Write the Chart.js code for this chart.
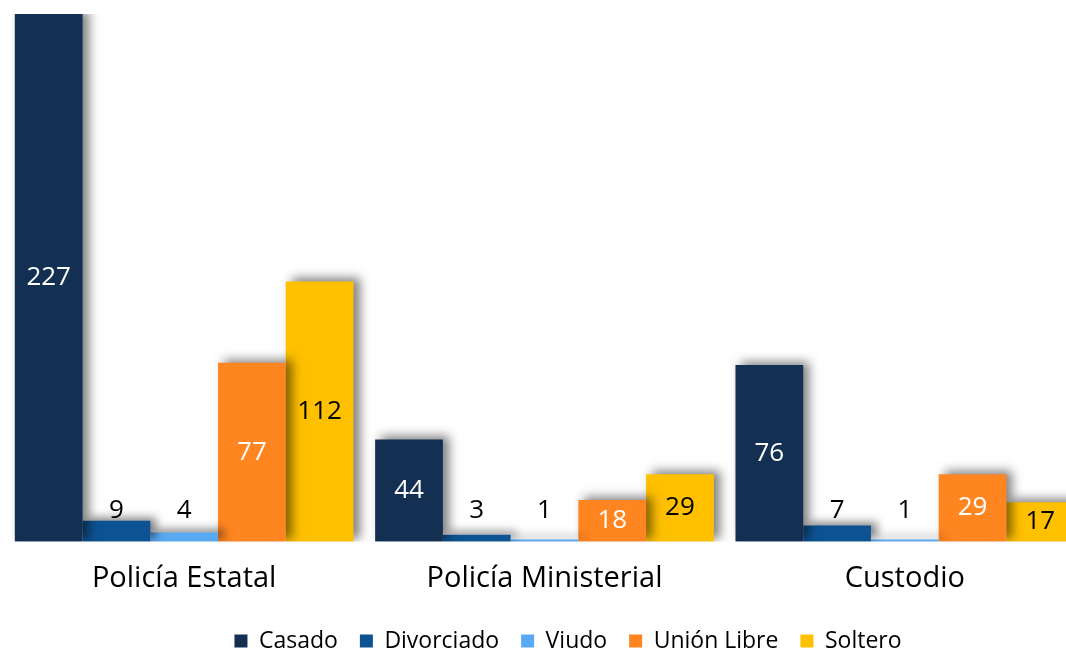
<!DOCTYPE html>
<html>
<head>
<meta charset="utf-8">
<script src="https://cdn.jsdelivr.net/npm/chart.js@4"></script>
<style>
  html, body { margin: 0; padding: 0; background: #fff; overflow: hidden; }
  #wrap { position: absolute; left: 0; top: 0; width: 1092px; height: 651px; }
</style>
</head>
<body>
<div id="wrap"><canvas id="myChart"></canvas></div>
<script>
var categories = ["Policía Estatal", "Policía Ministerial", "Custodio"];
var casado = [227, 44, 76];
var divorciado = [9, 3, 7];
var viudo = [4, 1, 1];
var unionLibre = [77, 18, 29];
var soltero = [112, 29, 17];

var fontName = "'Open Sans', 'DejaVu Sans', sans-serif";

// shadow on bars, clipped at the base line
var shadowPlugin = {
  id: 'shadow',
  beforeDatasetDraw: function(chart){
    var ctx = chart.ctx;
    ctx.save();
    ctx.beginPath();
    ctx.rect(0, 0, chart.width, chart.chartArea.bottom);
    ctx.clip();
    ctx.shadowColor = 'rgba(0,0,0,0.5)';
    ctx.shadowBlur = 10;
    ctx.shadowOffsetX = 6;
    ctx.shadowOffsetY = -3;
  },
  afterDatasetDraw: function(chart){
    chart.ctx.restore();
  }
};

// value labels
var labelPlugin = {
  id: 'valueLabels',
  afterDatasetsDraw: function(chart){
    var ctx = chart.ctx;
    ctx.save();
    ctx.font = "26px " + fontName;
    ctx.textAlign = 'center';
    ctx.textBaseline = 'middle';
    chart.data.datasets.forEach(function(ds, i){
      var meta = chart.getDatasetMeta(i);
      meta.data.forEach(function(bar, j){
        var h = bar.base - bar.y;
        var y, color;
        if (h >= 35) {
          y = bar.y + h / 2;
          color = ds.labelColor;
        } else {
          y = bar.base - 31;
          color = '#000';
        }
        ctx.fillStyle = color;
        ctx.fillText(ds.data[j], bar.x, y);
      });
    });
    ctx.restore();
  }
};

// move the legend to where the original has it
var legendPlace = {
  id: 'legendPlace',
  afterLayout: function(chart){
    var lg = chart.legend;
    var dx = 568 - (lg.left + lg.right) / 2;
    lg.left += dx; lg.right += dx;
    var pad = lg.options.labels.padding;
    lg.top = 641 - pad - 11.5;
    lg.bottom = chart.height;
  }
};

var ctx = document.getElementById('myChart');

var chart = new Chart(ctx, {
  type: 'bar',
  data: {
    labels: categories,
    datasets: [
      { label: 'Casado', data: casado, backgroundColor: '#133052', labelColor: '#fff' },
      { label: 'Divorciado', data: divorciado, backgroundColor: '#0d5394', labelColor: '#fff' },
      { label: 'Viudo', data: viudo, backgroundColor: '#5aaaf3', labelColor: '#000' },
      { label: 'Unión Libre', data: unionLibre, backgroundColor: '#ff8520', labelColor: '#fff' },
      { label: 'Soltero', data: soltero, backgroundColor: '#ffc000', labelColor: '#000' }
    ]
  },
  options: {
    responsive: true,
    maintainAspectRatio: false,
    animation: false,
    layout: { padding: { top: 14, left: 4, right: 7, bottom: 0 } },
    datasets: { bar: { categoryPercentage: 0.94, barPercentage: 1 } },
    scales: {
      x: {
        grid: { display: false, drawTicks: false },
        border: { display: false },
        ticks: { color: '#000', font: { family: fontName, size: 29 }, padding: 20 }
      },
      y: { display: false, min: 0, max: 227 }
    },
    plugins: {
      tooltip: { enabled: false },
      legend: {
        position: 'bottom',
        maxHeight: 34.4,
        labels: {
          color: '#000',
          boxWidth: 13,
          boxHeight: 13,
          padding: 22,
          font: { family: fontName, size: 23 }
        }
      }
    }
  },
  plugins: [shadowPlugin, labelPlugin, legendPlace]
});
</script>
</body>
</html>
